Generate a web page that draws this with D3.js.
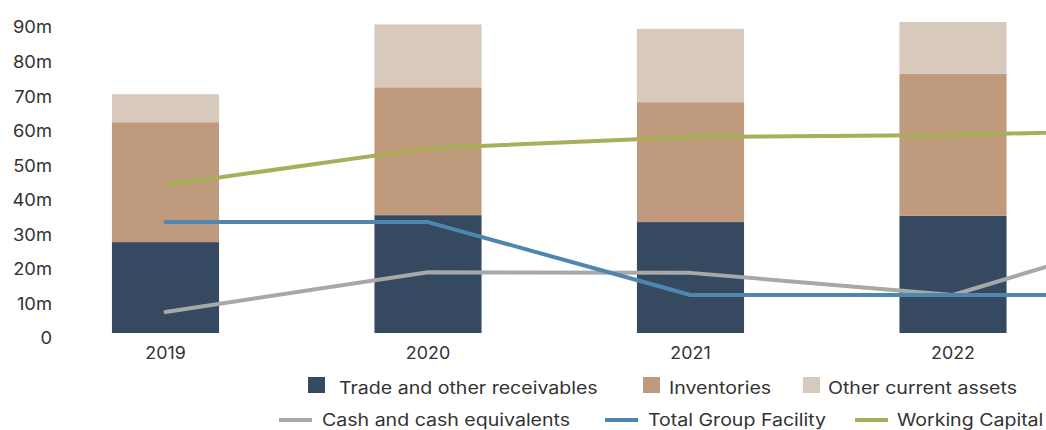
<!DOCTYPE html>
<html>
<head>
<meta charset="utf-8">
<script src="https://cdn.jsdelivr.net/npm/d3@7"></script>
<style>
  html, body { margin: 0; padding: 0; background: #fff; }
  svg { display: block; }
  text { font-family: Inter, "Open Sans", sans-serif; fill: #333; }
</style>
</head>
<body>
<svg id="chart" width="1046" height="430"></svg>
<script>
// ---- data ----
const years = ["2019", "2020", "2021", "2022", "2023"];
const barYears = ["2019", "2020", "2021", "2022"];
const tradeReceivables = [26.3, 34.1, 32.1, 33.9];
const inventories = [34.7, 37.0, 34.7, 41.1];
const otherCurrentAssets = [8.1, 18.2, 21.2, 15.0];
const cashEquivalents = [6.1, 17.6, 17.4, 11.0, 34.0];
const totalGroupFacility = [32.1, 32.1, 11.0, 11.0, 11.0];
const workingCapital = [42.8, 53.5, 56.7, 57.3, 59.2];
const yTicks = [0, 10, 20, 30, 40, 50, 60, 70, 80, 90];
const yTickLabels = ["0", "10m", "20m", "30m", "40m", "50m", "60m", "70m", "80m", "90m"];

const barSeries = [
  { name: "Trade and other receivables", values: tradeReceivables, color: "#354A60" },
  { name: "Inventories", values: inventories, color: "#C09A7C" },
  { name: "Other current assets", values: otherCurrentAssets, color: "#D7C9BB" }
];
const lineSeries = [
  { name: "Cash and cash equivalents", values: cashEquivalents, color: "#A6A8A9" },
  { name: "Total Group Facility", values: totalGroupFacility, color: "#4F86B0" },
  { name: "Working Capital", values: workingCapital, color: "#A9AE5A" }
];

// widen glyphs to approximate the reference's wide geometric typeface
function widen(sel, f) {
  sel.each(function () {
    const w = this.getComputedTextLength();
    d3.select(this).attr("textLength", w * f).attr("lengthAdjust", "spacingAndGlyphs");
  });
}

// ---- layout ----
const svg = d3.select("#chart");
const x = d3.scaleBand().domain(years).range([34.25, 1346.75]).paddingInner(0.592).paddingOuter(0.296);
const y = d3.scaleLinear().domain([0, 90]).range([333, 22]);

// stacked bars
const rows = barYears.map((yr, i) => {
  const r = { year: yr };
  barSeries.forEach(s => r[s.name] = s.values[i]);
  return r;
});
const stack = d3.stack().keys(barSeries.map(s => s.name))(rows);
svg.append("g").selectAll("g").data(stack).join("g")
  .attr("fill", (d, i) => barSeries[i].color)
  .selectAll("rect").data(d => d).join("rect")
  .attr("x", d => x(d.data.year))
  .attr("width", x.bandwidth())
  .attr("y", d => y(d[1]))
  .attr("height", d => y(d[0]) - y(d[1]));

// lines
const line = d3.line().x((d, i) => x(years[i]) + x.bandwidth() / 2).y(d => y(d));
svg.append("g").selectAll("path").data(lineSeries).join("path")
  .attr("d", d => line(d.values))
  .attr("fill", "none")
  .attr("stroke", d => d.color)
  .attr("stroke-width", 4)
  .attr("stroke-linecap", "round")
  .attr("stroke-linejoin", "round");

// y axis (labels only)
const yAxis = d3.axisLeft(y).tickValues(yTicks).tickFormat((d, i) => yTickLabels[i]).tickSize(0).tickPadding(0);
const gy = svg.append("g").attr("transform", "translate(52,0)").call(yAxis);
gy.select(".domain").remove();
gy.selectAll("text").attr("font-size", 17).attr("dy", "0.35em")
  .attr("transform", "translate(0,5)").style("font-family", "Inter, sans-serif").attr("fill", "#333");
widen(gy.selectAll("text"), 1.08);

// x axis (labels only)
const xAxis = d3.axisBottom(x).tickValues(barYears).tickSize(0).tickPadding(0);
const gx = svg.append("g").attr("transform", "translate(0,333)").call(xAxis);
gx.select(".domain").remove();
gx.selectAll("text").attr("font-size", 17).attr("dy", "0.35em").attr("y", 20)
  .style("font-family", "Inter, sans-serif").attr("fill", "#333");
widen(gx.selectAll("text"), 1.05);

// legend
const legend = svg.append("g").attr("font-size", 17);
const sqX = [308, 643, 803];
const sqTextX = [339, 669, 828];
barSeries.forEach((s, i) => {
  legend.append("rect").attr("x", sqX[i]).attr("y", 377).attr("width", 17).attr("height", 16).attr("fill", s.color);
  legend.append("text").attr("x", sqTextX[i]).attr("y", 388).attr("dy", "0.35em").text(s.name);
});
const lnX = [279, 605, 855];
const lnTextX = [322, 648, 897];
lineSeries.forEach((s, i) => {
  legend.append("line").attr("x1", lnX[i]).attr("x2", lnX[i] + 33).attr("y1", 420).attr("y2", 420)
    .attr("stroke", s.color).attr("stroke-width", 4);
  legend.append("text").attr("x", lnTextX[i]).attr("y", 420).attr("dy", "0.35em").text(s.name);
});
widen(legend.selectAll("text"), 1.15);
</script>
</body>
</html>
